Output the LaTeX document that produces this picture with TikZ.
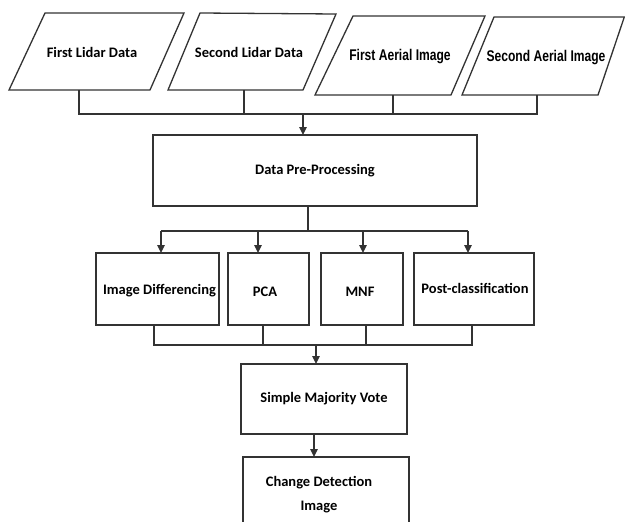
\documentclass[tikz,border=0pt]{standalone}
\usepackage{fontspec}
\setmainfont{Carlito}
\newfontfamily\narrowfont{Liberation Sans}[FakeStretch=0.78]
\usetikzlibrary{arrows.meta}
\tikzset{
  ln/.style={draw=black!80, line width=1.3pt},
  arr/.style={ln, -{Triangle[length=8pt,width=7.5pt]}},
  box/.style={draw=black!80, line width=1.3pt, fill=white},
  lab/.style={font=\bfseries\fontsize{14.5}{16}\selectfont, inner sep=0pt},
  nlab/.style={font=\narrowfont\bfseries\fontsize{15.5}{17}\selectfont, inner sep=0pt},
}
\begin{document}
\begin{tikzpicture}[x=1pt,y=-1pt]
\useasboundingbox (0,0) rectangle (625,522);
% parallelograms
\draw[box] (45,13) -- (184,13) -- (150,90) -- (9,90) -- cycle;
\draw[box] (200,13) -- (336,14) -- (303,90) -- (168,90) -- cycle;
\draw[box] (353,16) -- (485,16) -- (451,95) -- (315,95) -- cycle;
\draw[box] (494,17) -- (624.3,17) -- (598,95) -- (462,95) -- cycle;
\node[lab] (p1) at (92,52) {First Lidar Data};
\node[lab] (p2) at (249,52) {Second Lidar Data};
\node[nlab] (p3) at (400,57) {First Aerial Image};
\node[nlab] (p4) at (546,58) {Second Aerial Image};
\coordinate (p1b) at (79,90);
\coordinate (p2b) at (244,90);
\coordinate (p3b) at (393,95);
\coordinate (p4b) at (537,95);
\coordinate (j1) at (303,114);
% boxes
\node[box, minimum width=324pt, minimum height=71pt, lab] (dp) at (315,170.5) {Data Pre-Processing};
\node[box, minimum width=123pt, minimum height=72pt] (id) at (157.5,289) {};
\node[box, minimum width=81pt, minimum height=72pt] (pca) at (268.5,289) {};
\node[box, minimum width=82pt, minimum height=72pt] (mnf) at (362,289) {};
\node[box, minimum width=120pt, minimum height=72pt] (pc) at (474,289) {};
\node[lab] (idt) at (159.5,291) {Image Differencing};
\node[lab] (pcat) at (265,291.5) {PCA};
\node[lab] (mnft) at (360,291.5) {MNF};
\node[lab] (pct) at (475,288) {Post-classification};
\node[box, minimum width=166pt, minimum height=70pt, lab] (smv) at (324,399) {Simple Majority Vote};
\draw[box] (243,540) -- (243,457) -- (409,457) -- (409,540);
\node[lab, align=center, font=\bfseries\fontsize{14.5}{24}\selectfont] (cdi) at (319,495) {Change Detection\\Image};
% top connectors
\draw[ln] (p1b) -- (79,114) -- (537,114) -- (p4b);
\draw[ln] (p2b) -- (244,114);
\draw[ln] (p3b) -- (393,114);
\draw[arr] (j1) -- (303,135);
% fan out
\coordinate (j2) at (308,231);
\draw[ln] (308,206) -- (j2);
\draw[ln] (161,231) -- (468,231);
\draw[arr] (161,231) -- (161,253);
\draw[arr] (258,231) -- (258,253);
\draw[arr] (363,231) -- (363,253);
\draw[arr] (468,231) -- (468,253);
% fan in
\draw[ln] (154,325) -- (154,345) -- (472,345) -- (472,325);
\draw[ln] (263,325) -- (263,345);
\draw[ln] (366,325) -- (366,345);
\draw[arr] (316,345) -- (316,364);
\draw[arr] (314,434) -- (314,457);
\end{tikzpicture}
\end{document}
